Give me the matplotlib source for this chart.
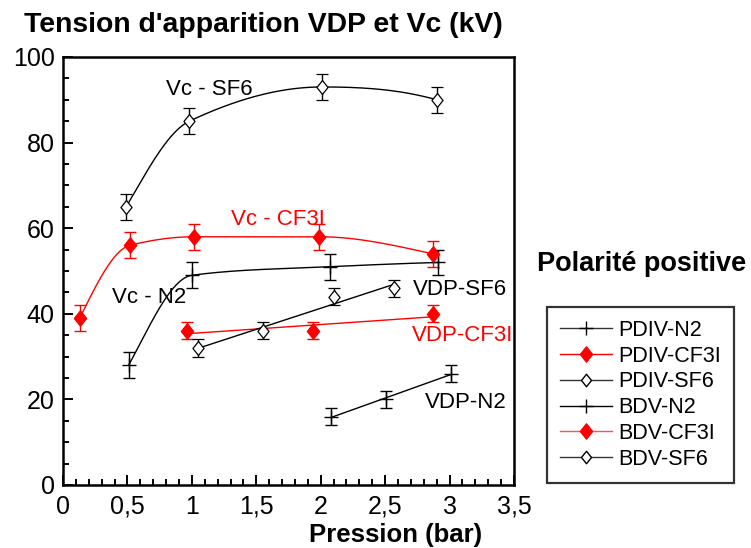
import numpy as np
import matplotlib
matplotlib.use("Agg")
import matplotlib.pyplot as plt
from matplotlib.lines import Line2D
from matplotlib.path import Path
from matplotlib.ticker import MultipleLocator, FuncFormatter

plt.rcParams['font.family'] = ['Liberation Sans', 'DejaVu Sans']

# ---------------- data ----------------
# BDV (Vc) series
bdv_n2_x = [0.51, 1.0, 2.07, 2.91]
bdv_n2_y = [28, 49, 51, 52]
bdv_n2_err = [3, 3, 3, 3]

bdv_cf3i_x = [0.13, 0.52, 1.02, 1.99, 2.87]
bdv_cf3i_y = [39, 56, 58, 58, 54]
bdv_cf3i_err = [3, 3, 3, 3, 3]

bdv_sf6_x = [0.49, 0.98, 2.01, 2.90]
bdv_sf6_y = [65, 85, 93, 90]
bdv_sf6_err = [3, 3, 3, 3]

# PDIV (VDP) series
pdiv_n2_x = [2.08, 2.51, 3.01]
pdiv_n2_y = [16, 20, 26]
pdiv_n2_err = [2, 2, 2]

pdiv_cf3i_x = [0.96, 1.94, 2.87]
pdiv_cf3i_y = [36, 36, 40]
pdiv_cf3i_err = [2, 2, 2]

pdiv_sf6_x = [1.05, 1.55, 2.10, 2.57]
pdiv_sf6_y = [32, 36, 44, 46]
pdiv_sf6_err = [2, 2, 2, 2]

x_ticks = [0, 0.5, 1, 1.5, 2, 2.5, 3, 3.5]
y_ticks = [0, 20, 40, 60, 80, 100]

legend_labels = ['PDIV-N2', 'PDIV-CF3I', 'PDIV-SF6', 'BDV-N2', 'BDV-CF3I', 'BDV-SF6']


def pchip(x, y, xs):
    x = np.asarray(x, float); y = np.asarray(y, float)
    n = len(x); h = np.diff(x); dl = np.diff(y) / h
    m = np.zeros(n)
    for i in range(1, n - 1):
        if dl[i - 1] * dl[i] <= 0:
            m[i] = 0.0
        else:
            w1 = 2 * h[i] + h[i - 1]; w2 = h[i] + 2 * h[i - 1]
            m[i] = (w1 + w2) / (w1 / dl[i - 1] + w2 / dl[i])

    def end(h0, h1, d0, d1):
        s = ((2 * h0 + h1) * d0 - h0 * d1) / (h0 + h1)
        if np.sign(s) != np.sign(d0):
            s = 0.0
        elif np.sign(d0) != np.sign(d1) and abs(s) > abs(3 * d0):
            s = 3 * d0
        return s
    m[0] = end(h[0], h[1], dl[0], dl[1])
    m[-1] = end(h[-1], h[-2], dl[-1], dl[-2])
    idx = np.clip(np.searchsorted(x, xs) - 1, 0, n - 2)
    t = (xs - x[idx]) / h[idx]
    h00 = 2 * t ** 3 - 3 * t ** 2 + 1; h10 = t ** 3 - 2 * t ** 2 + t
    h01 = -2 * t ** 3 + 3 * t ** 2; h11 = t ** 3 - t ** 2
    return h00 * y[idx] + h10 * h[idx] * m[idx] + h01 * y[idx + 1] + h11 * h[idx] * m[idx + 1]


# diamond marker (slightly taller than wide)
diamond = Path([(0, 1), (0.8, 0), (0, -1), (-0.8, 0), (0, 1)],
               [Path.MOVETO, Path.LINETO, Path.LINETO, Path.LINETO, Path.CLOSEPOLY])

W, H = 751, 548
fig = plt.figure(figsize=(W / 100, H / 100), dpi=100)
ax = fig.add_axes([63 / W, 1 - 485 / H, (514 - 63) / W, (485 - 57) / H])

RED = '#ff0000'
eb_kw = dict(capsize=4, elinewidth=1.0, capthick=1.0, linestyle='none', zorder=3)

styles = {
    'n2': dict(marker='+', ms=10, mfc='black', mec='black', mew=1.0, color='black'),
    'cf3i': dict(marker=diamond, ms=11, mfc=RED, mec=RED, mew=1.0, color=RED),
    'sf6': dict(marker=diamond, ms=10, mfc='white', mec='black', mew=0.9, color='black'),
}

# BDV curves (smooth)
for xs_, ys_, es_, key in [(bdv_n2_x, bdv_n2_y, bdv_n2_err, 'n2'),
                           (bdv_cf3i_x, bdv_cf3i_y, bdv_cf3i_err, 'cf3i'),
                           (bdv_sf6_x, bdv_sf6_y, bdv_sf6_err, 'sf6')]:
    st = styles[key]
    xx = np.linspace(xs_[0], xs_[-1], 300)
    ax.plot(xx, pchip(xs_, ys_, xx), color=st['color'], lw=1.0, zorder=2)
    ax.errorbar(xs_, ys_, yerr=es_, ecolor=st['color'], marker=st['marker'], ms=st['ms'],
                mfc=st['mfc'], mec=st['mec'], mew=st['mew'], **eb_kw)

# PDIV lines (linear fit)
for xs_, ys_, es_, key in [(pdiv_n2_x, pdiv_n2_y, pdiv_n2_err, 'n2'),
                           (pdiv_cf3i_x, pdiv_cf3i_y, pdiv_cf3i_err, 'cf3i'),
                           (pdiv_sf6_x, pdiv_sf6_y, pdiv_sf6_err, 'sf6')]:
    st = styles[key]
    p = np.polyfit(xs_, ys_, 1)
    xx = np.array([xs_[0], xs_[-1]])
    ax.plot(xx, np.polyval(p, xx), color=st['color'], lw=1.0, zorder=2)
    ax.errorbar(xs_, ys_, yerr=es_, ecolor=st['color'], marker=st['marker'], ms=st['ms'],
                mfc=st['mfc'], mec=st['mec'], mew=st['mew'], **eb_kw)

ax.set_xlim(0, 3.5)
ax.set_ylim(0, 100)
ax.set_xticks(x_ticks)
ax.set_yticks(y_ticks)
ax.xaxis.set_minor_locator(MultipleLocator(0.1))
ax.yaxis.set_minor_locator(MultipleLocator(5))
ax.xaxis.set_major_formatter(FuncFormatter(lambda v, p: ('%g' % v).replace('.', ',')))
ax.tick_params(which='both', direction='in', top=False, right=False, width=1.4, labelsize=18)
ax.tick_params(which='major', length=7)
ax.tick_params(which='minor', length=4)
ax.tick_params(axis='x', pad=7)
ax.tick_params(axis='y', pad=6)
for s in ax.spines.values():
    s.set_linewidth(1.8)

# annotations
txt = 16
ax.text(1.133, 92.3, 'Vc - SF6', fontsize=txt, ha='center', va='center')
ax.text(1.30, 62, 'Vc - CF3I', fontsize=txt, ha='left', va='center', color=RED)
ax.text(0.38, 43.7, 'Vc - N2', fontsize=txt, ha='left', va='center')
ax.text(2.715, 45.6, 'VDP-SF6', fontsize=txt, ha='left', va='center')
ax.text(2.708, 35.0, 'VDP-CF3I', fontsize=txt, ha='left', va='center', color=RED)
ax.text(2.81, 19.2, 'VDP-N2', fontsize=txt, ha='left', va='center')

# titles
fig.text(24 / W, 1 - 25 / H, "Tension d'apparition VDP et Vc (kV)", fontsize=20.4,
         fontweight='bold', ha='left', va='center')
fig.text(396 / W, 1 - 535 / H, 'Pression (bar)', fontsize=18.5, fontweight='bold',
         ha='center', va='center')
fig.text(537 / W, 1 - 264 / H, 'Polarité positive', fontsize=19.5, fontweight='bold',
         ha='left', va='center')

# legend
handles = [
    Line2D([], [], color='#333333', lw=1.0, marker='+', ms=10, mec='black'),
    Line2D([], [], color=RED, lw=1.0, marker=diamond, ms=11, mfc=RED, mec=RED),
    Line2D([], [], color='#333333', lw=1.0, marker=diamond, ms=9, mfc='white', mec='black'),
    Line2D([], [], color='black', lw=1.0, marker='+', ms=10, mec='black'),
    Line2D([], [], color='#ff5050', lw=1.0, marker=diamond, ms=11, mfc=RED, mec=RED),
    Line2D([], [], color='#333333', lw=1.0, marker=diamond, ms=9, mfc='white', mec='black'),
]
leg = fig.legend(handles, legend_labels, loc='upper left',
                 bbox_to_anchor=(547 / W, 1 - 307 / H), bbox_transform=fig.transFigure,
                 borderaxespad=0, fontsize=15.5, frameon=True, fancybox=False,
                 edgecolor='black', handlelength=2.4, handletextpad=0.3,
                 labelspacing=0.22, borderpad=0.6)
leg.get_frame().set_linewidth(1.6)

fig.savefig('out.png', dpi=100)
